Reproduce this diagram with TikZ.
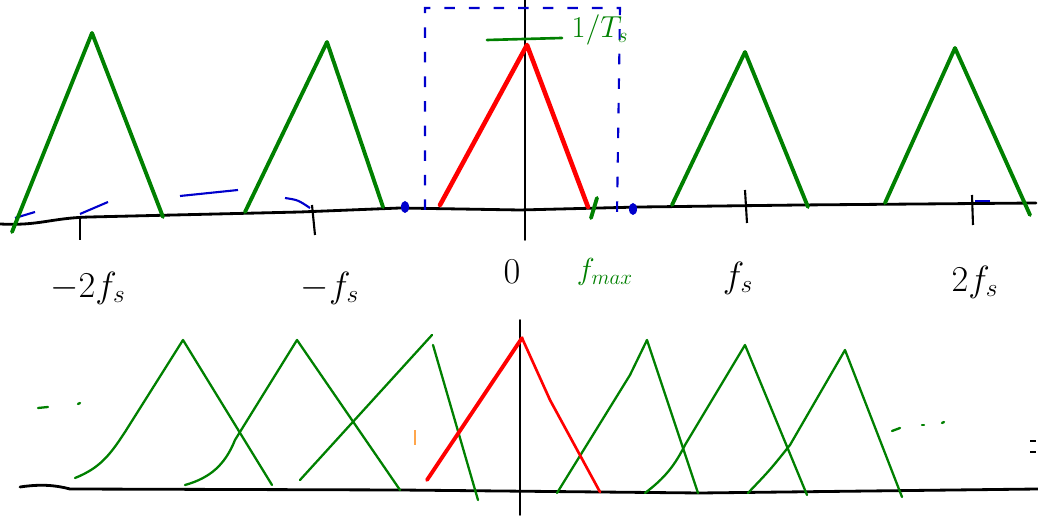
\documentclass[tikz,border=0pt]{standalone}
\begin{document}
\begin{tikzpicture}[x=0.02cm,y=-0.02cm,
  spec/.style={draw=green!50!black,line width=2.2pt,line join=round,line cap=round},
  specthin/.style={draw=green!50!black,line width=1.3pt,line join=round,line cap=round},
  base/.style={draw=red,line width=2.6pt,line join=round,line cap=round},
  basethin/.style={draw=red,line width=1.5pt,line join=round,line cap=round},
  axisline/.style={draw=black,line width=1.6pt,line cap=round},
  ticks/.style={draw=black,line width=1.2pt},
  boxline/.style={draw=blue!80!black,line width=1.2pt,dash pattern=on 6pt off 8pt},
  bluemark/.style={draw=blue!80!black,line width=1.2pt},
  lbl/.style={font=\huge,text=black},
  glbl/.style={font=\LARGE,text=green!50!black}]
\useasboundingbox (0,0) rectangle (1038,519);
% ---------- top spectrum ----------
\draw[axisline] (0,224) .. controls (40,226) and (50,218) .. (90,217)
  -- (300,212) -- (400,208) -- (520,210) -- (640,207) -- (800,205) -- (1036,203);
\draw[axisline,line width=1pt] (525,0) -- (525,240);
% ticks
\draw[ticks] (80,216) -- (80,240);
\draw[ticks] (312,205) -- (315,235);
\draw[ticks] (745,190) -- (747,223);
\draw[ticks] (972,195) -- (973,225);
% blue dashed box and marks
\draw[boxline] (425,210) -- (425,8) -- (620,8) -- (617,215);
\fill[blue!80!black] (405,207) ellipse (4 and 6);
\fill[blue!80!black] (633,209) ellipse (4 and 6);
\draw[bluemark] (180,196) -- (238,190);
\draw[bluemark] (285,198) .. controls (298,200) .. (310,208);
\draw[bluemark] (15,218) -- (35,212);
\draw[bluemark] (80,214) -- (108,202);
\draw[bluemark] (975,201) -- (990,201);
% green replicas
\draw[spec] (12,232) -- (92,33) -- (163,217);
\draw[spec] (245,212) -- (327,42) -- (383,207);
\draw[spec] (672,205) -- (745,52) -- (808,207);
\draw[spec] (885,203) -- (955,48) -- (1030,215);
% red baseband
\draw[base] (440,205) -- (527,45) -- (588,207);
% 1/Ts level
\draw[spec,line width=1.5pt] (487,40) -- (562,38);
\node[glbl] (ts) at (600,30) {$1/T_s$};
% fmax tick
\draw[spec] (597,198) -- (591,218);
% labels
\node[lbl] (l1) at (88,288) {$-2f_s$};
\node[lbl] (l2) at (330,288) {$-f_s$};
\node[lbl] (l3) at (512,272) {$0$};
\node[glbl] (l4) at (605,272) {$f_{max}$};
\node[lbl] (l5) at (738,278) {$f_s$};
\node[lbl] (l6) at (975,282) {$2f_s$};
% ---------- bottom spectrum (aliased) ----------
\draw[axisline] (20,487) .. controls (40,484) and (55,485) .. (70,489)
  -- (400,490) -- (700,493) -- (1038,489);
\draw[axisline,line width=1pt] (520,320) -- (520,515);
\draw[specthin] (75,478) .. controls (100,468) and (110,455) .. (125,432) -- (183,340) -- (272,485);
\draw[specthin] (185,485) .. controls (210,478) and (225,465) .. (235,440) -- (297,340) -- (400,490);
\draw[specthin] (300,480) -- (432,335);
\draw[specthin] (433,345) -- (478,500);
\draw[specthin] (557,493) -- (630,375) -- (647,340) -- (698,493);
\draw[specthin] (645,493) .. controls (665,478) and (675,465) .. (685,445) -- (745,345) -- (807,495);
\draw[specthin] (748,493) .. controls (770,470) .. (790,445) -- (845,350) -- (902,497);
\draw[basethin,line width=2.2pt] (427,480) -- (522,338);
\draw[basethin] (522,338) -- (550,400) -- (600,492);
% continuation marks
\draw[specthin] (38,408) -- (48,407);
\draw[specthin] (78,404) -- (80,403);
\draw[specthin] (892,431) -- (900,428);
\draw[specthin] (922,425) -- (924,425);
\draw[specthin] (942,423) -- (944,422);
\draw[ticks,line width=0.8pt] (1030,441) -- (1036,441);
\draw[ticks,line width=0.8pt] (1030,452) -- (1036,452);
\draw[orange!70,line width=1pt] (415,430) -- (415,445);
\end{tikzpicture}
\end{document}
